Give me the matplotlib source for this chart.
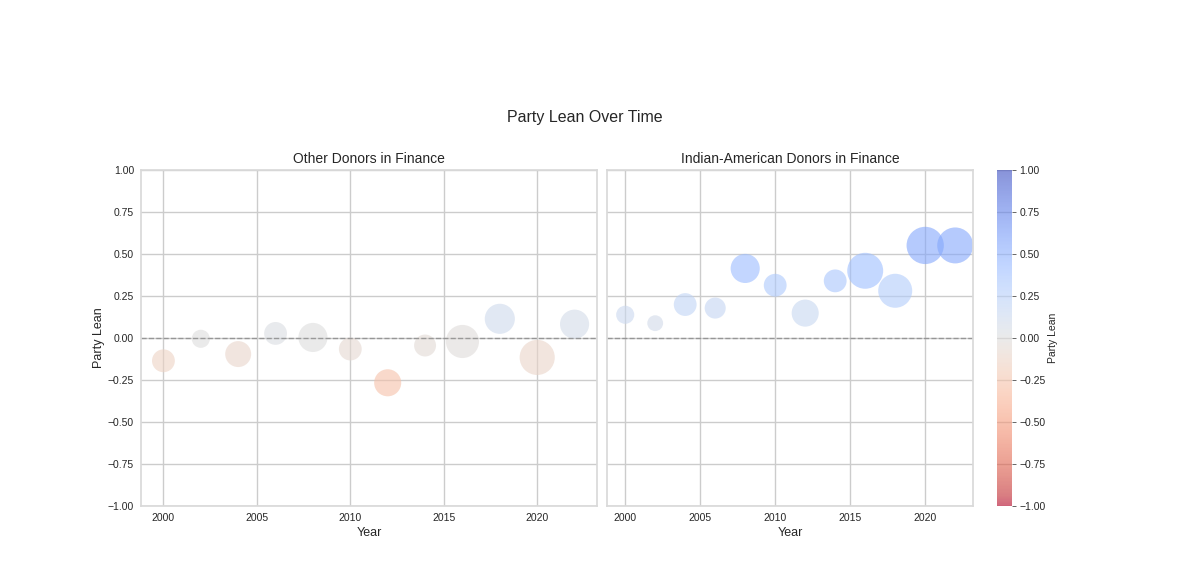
import matplotlib
matplotlib.use("Agg")
import matplotlib.pyplot as plt
import seaborn as sns
import numpy as np

# Data
years = [2000, 2002, 2004, 2006, 2008, 2010, 2012, 2014, 2016, 2018, 2020, 2022]

other_lean = [-0.135, -0.004, -0.095, 0.028, 0.004, -0.065, -0.266, -0.044, -0.02, 0.115, -0.115, 0.083]
other_size = [270, 170, 350, 270, 440, 270, 380, 250, 570, 470, 640, 440]

indian_lean = [0.139, 0.089, 0.20, 0.179, 0.415, 0.315, 0.149, 0.341, 0.401, 0.282, 0.552, 0.552]
indian_size = [170, 130, 270, 230, 440, 270, 380, 270, 670, 600, 720, 670]

titles = ["Other Donors in Finance", "Indian-American Donors in Finance"]
yticks = [-1.0, -0.75, -0.5, -0.25, 0.0, 0.25, 0.5, 0.75, 1.0]

sns.set_theme(style="whitegrid")
plt.rcParams['font.family'] = ['Liberation Sans', 'DejaVu Sans']

fig = plt.figure(figsize=(12, 5.77), dpi=100)
ax1 = fig.add_axes([0.1175, 0.123, 0.380, 0.582])
ax2 = fig.add_axes([0.506, 0.123, 0.305, 0.582], sharey=ax1)
cax = fig.add_axes([0.831, 0.123, 0.0125, 0.582])

series = [(other_lean, other_size), (indian_lean, indian_size)]
for ax, (lean, size), title in zip([ax1, ax2], series, titles):
    sc = ax.scatter(years, lean, s=size, c=lean, cmap='coolwarm_r',
                    vmin=-1, vmax=1, alpha=0.6, edgecolors='none')
    ax.axhline(0, color='gray', linestyle='--', linewidth=1, alpha=0.7)
    ax.set_title(title, fontsize=10, pad=5)
    ax.set_xlabel("Year", fontsize=9, labelpad=3)
    ax.set_ylim(-1, 1)
    ax.set_xlim(1998.8, 2023.2)
    ax.set_xticks([2000, 2005, 2010, 2015, 2020])
    ax.set_yticks(yticks)
    ax.tick_params(labelsize=7.5, length=0, pad=5)
    for sp in ax.spines.values():
        sp.set_color('.85')

ax1.set_ylabel("Party Lean", fontsize=9, labelpad=2)
ax2.tick_params(labelleft=False)

cb = fig.colorbar(sc, cax=cax)
cb.set_label("Party Lean", fontsize=7.5, labelpad=2)
cb.set_ticks(yticks)
cb.ax.tick_params(labelsize=7.5, length=3, width=0.6, color='.3', pad=2)
cb.outline.set_visible(False)

fig.suptitle("Party Lean Over Time", fontsize=11.5, x=0.487, y=0.81)

plt.savefig("out.png", dpi=100)
plt.close()
